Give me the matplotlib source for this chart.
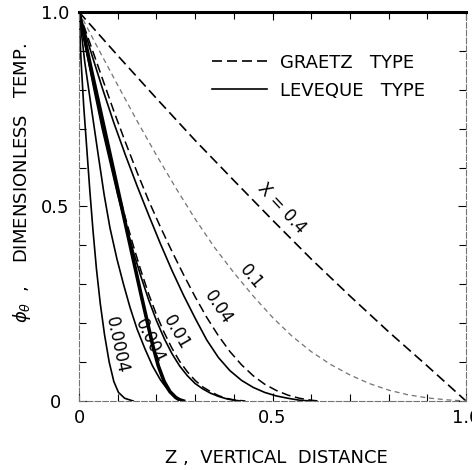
"""Profils de température : solutions type Graetz (tirets) et Leveque (traits pleins)."""

import matplotlib
matplotlib.use("Agg")
import matplotlib.pyplot as plt

# --- valeurs (Z, phi_theta) --------------------------------------------------
# X = 0.4, Graetz
z_g04 = [0, 0.1, 0.2, 0.3, 0.4, 0.5, 0.6, 0.7, 0.8, 0.9, 0.95, 1.0]
t_g04 = [1, 0.888, 0.778, 0.67, 0.567, 0.465, 0.365, 0.27, 0.178, 0.09, 0.045, 0]

# X = 0.1, Graetz
z_g01 = [0, 0.05, 0.1, 0.15, 0.2, 0.25, 0.3, 0.35, 0.4, 0.45, 0.5,
         0.55, 0.6, 0.65, 0.7, 0.75, 0.8, 0.85, 0.9, 0.95, 1.0]
t_g01 = [1, 0.905, 0.812, 0.72, 0.632, 0.548, 0.468, 0.395, 0.33, 0.27, 0.215,
         0.167, 0.127, 0.094, 0.067, 0.045, 0.028, 0.016, 0.008, 0.003, 0]

# X = 0.04
z_g004 = [0, 0.03, 0.06, 0.09, 0.12, 0.15, 0.18, 0.21, 0.24, 0.27, 0.3,
          0.33, 0.36, 0.39, 0.42, 0.45, 0.48, 0.51, 0.54, 0.57, 0.6, 0.62]
t_g004 = [1, 0.915, 0.83, 0.745, 0.665, 0.588, 0.515, 0.448, 0.385, 0.325, 0.268,
          0.215, 0.168, 0.127, 0.093, 0.065, 0.043, 0.027, 0.015, 0.007, 0.002, 0]
z_l004 = [0, 0.03, 0.06, 0.09, 0.12, 0.15, 0.18, 0.21, 0.24, 0.27, 0.3,
          0.33, 0.36, 0.39, 0.42, 0.45, 0.48, 0.51, 0.54, 0.57, 0.6]
t_l004 = [1, 0.9, 0.805, 0.715, 0.632, 0.553, 0.478, 0.405, 0.336, 0.272, 0.213,
          0.157, 0.112, 0.078, 0.053, 0.035, 0.022, 0.013, 0.007, 0.002, 0]

# X = 0.01
z_g001 = [0, 0.02, 0.04, 0.06, 0.08, 0.1, 0.12, 0.14, 0.16, 0.18, 0.2,
          0.22, 0.24, 0.26, 0.28, 0.3, 0.32, 0.34, 0.36, 0.38, 0.4, 0.43]
t_g001 = [1, 0.9, 0.805, 0.712, 0.627, 0.545, 0.47, 0.4, 0.335, 0.275, 0.222,
          0.176, 0.136, 0.102, 0.075, 0.053, 0.036, 0.024, 0.014, 0.007, 0.003, 0]
z_l001 = [0, 0.02, 0.04, 0.06, 0.08, 0.1, 0.12, 0.14, 0.16, 0.18, 0.2,
          0.22, 0.24, 0.26, 0.28, 0.3, 0.32, 0.34, 0.36, 0.38, 0.4, 0.42]
t_l001 = [1, 0.895, 0.795, 0.7, 0.615, 0.53, 0.455, 0.385, 0.32, 0.26, 0.207,
          0.161, 0.122, 0.09, 0.065, 0.045, 0.031, 0.02, 0.012, 0.006, 0.002, 0]

# X = 0.004 (trait épais : les deux solutions confondues)
z_g0004 = [0, 0.03, 0.06, 0.09, 0.12, 0.14, 0.16, 0.175, 0.19, 0.205, 0.22,
           0.235, 0.25, 0.26, 0.27]
t_g0004 = [1, 0.86, 0.725, 0.59, 0.455, 0.365, 0.275, 0.21, 0.145, 0.09, 0.05,
           0.024, 0.009, 0.003, 0]
z_l0004 = [0, 0.015, 0.031, 0.05, 0.065, 0.08, 0.098, 0.115, 0.132, 0.15, 0.17,
           0.19, 0.21, 0.23, 0.25, 0.27]
t_l0004 = [1, 0.87, 0.76, 0.63, 0.53, 0.445, 0.365, 0.3, 0.24, 0.185, 0.135,
           0.09, 0.055, 0.028, 0.01, 0]

# X = 0.0004, Leveque
z_l00004 = [0, 0.005, 0.012, 0.02, 0.028, 0.036, 0.045, 0.055, 0.066, 0.078,
            0.09, 0.102, 0.118, 0.14]
t_l00004 = [1.0, 0.88, 0.76, 0.65, 0.54, 0.44, 0.34, 0.25, 0.17, 0.10,
            0.05, 0.022, 0.007, 0.0]

# étiquettes des courbes : texte, position, angle
curve_labels = ["X = 0.4", "0.1", "0.04", "0.01", "0.004", "0.0004"]
label_z = [0.525, 0.445, 0.36, 0.252, 0.183, 0.097]
label_t = [0.495, 0.318, 0.24, 0.176, 0.155, 0.143]
label_rot = [-47, -50, -56, -60, -64, -78]

DASH = (0, (6, 3))
FS = 13

fig = plt.figure(figsize=(4.72, 4.70), dpi=100)
ax = fig.add_axes([0.1674, 0.1468, 0.8199, 0.8277])

ax.plot(z_g04, t_g04, color="k", lw=1.2, ls=DASH, label="GRAETZ   TYPE")
ax.plot(z_g01, t_g01, color="0.45", lw=0.9, ls=(0, (4, 3)))
ax.plot(z_g004, t_g004, color="k", lw=1.1, ls=DASH)
ax.plot(z_l004, t_l004, color="k", lw=1.2)
ax.plot(z_g001, t_g001, color="k", lw=1.1, ls=DASH)
ax.plot(z_l001, t_l001, color="k", lw=1.2)
ax.plot(z_g0004, t_g0004, color="k", lw=2.6)
ax.plot(z_l0004, t_l0004, color="k", lw=1.2)
ax.plot(z_l00004, t_l00004, color="k", lw=1.2, label="LEVEQUE   TYPE")

for txt, z, t, rot in zip(curve_labels, label_z, label_t, label_rot):
    ax.text(z, t, txt, rotation=rot, ha="center", va="center",
            rotation_mode="anchor", fontsize=12)

ax.set_xlim(0, 1)
ax.set_ylim(0, 1)
ax.set_xticks([0, 0.5, 1.0], ["0", "0.5", "1.0"])
ax.set_yticks([0, 0.5, 1.0], ["0", "0.5", "1.0"])
ax.set_xticks([i / 10 for i in range(1, 10)], minor=True)
ax.set_yticks([i / 10 for i in range(1, 10)], minor=True)
ax.tick_params(which="both", direction="in", top=True, right=True, labelsize=FS)
ax.tick_params(which="major", length=6, width=0.8)
ax.tick_params(which="minor", length=5, width=0.8)
ax.tick_params(axis="x", pad=6)
ax.tick_params(axis="y", pad=17)
for lbl in ax.get_yticklabels():
    lbl.set_ha("center")

ax.spines["top"].set_linewidth(2.2)
for side in ["left", "right", "bottom"]:
    ax.spines[side].set_linewidth(0.8)
    ax.spines[side].set_color("0.45")
    ax.spines[side].set_linestyle((0, (5, 2)))

ax.set_xlabel("Z ,  VERTICAL  DISTANCE", fontsize=FS)
ax.xaxis.set_label_coords(0.509, -0.1465)
ax.xaxis.label.set_va("center")
ax.set_ylabel(r"$\phi_\theta$  ,    DIMENSIONLESS   TEMP.", fontsize=FS)
ax.yaxis.set_label_coords(-0.147, 0.56)
ax.yaxis.label.set_va("center")

ax.legend(loc="upper left", bbox_to_anchor=(0.344, 0.893), frameon=False,
          fontsize=FS, handlelength=3.05, handletextpad=0.72, labelspacing=0.55,
          borderpad=0, borderaxespad=0)

fig.savefig("out.png", dpi=100)
